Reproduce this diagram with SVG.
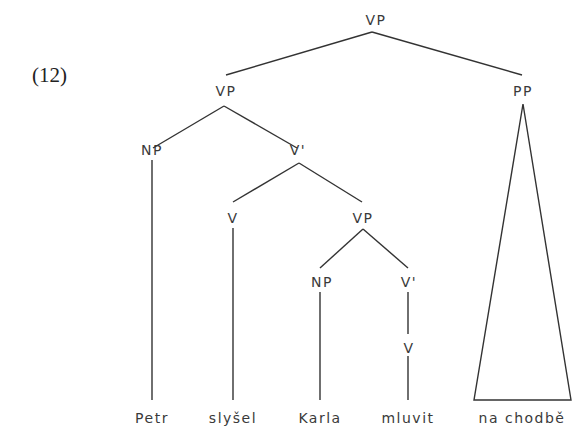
<svg xmlns="http://www.w3.org/2000/svg" width="573" height="427" viewBox="0 0 573 427">
<style>
.lbl{font-family:"DejaVu Sans","Liberation Sans",sans-serif;font-size:14px;fill:#3a3a3a;text-anchor:middle;letter-spacing:1.5px}
.ex{font-family:"Liberation Serif",serif;font-size:21px;fill:#222}
.ln{stroke:#333;stroke-width:1.4;fill:none}
</style>
<rect width="573" height="427" fill="#fff"/>
<text class="ex" x="32" y="82">(12)</text>
<g id="n_vp1"><text class="lbl" x="376" y="25">VP</text></g>
<g id="n_vp2"><text class="lbl" x="226" y="96">VP</text></g>
<g id="n_pp"><text class="lbl" x="523" y="96">PP</text></g>
<g id="n_np1"><text class="lbl" x="152" y="155">NP</text></g>
<g id="n_vbar1"><text class="lbl" x="298" y="155">V'</text></g>
<g id="n_v1"><text class="lbl" x="233" y="223">V</text></g>
<g id="n_vp3"><text class="lbl" x="363" y="223">VP</text></g>
<g id="n_np2"><text class="lbl" x="322" y="287">NP</text></g>
<g id="n_vbar2"><text class="lbl" x="409" y="287">V'</text></g>
<g id="n_v2"><text class="lbl" x="409" y="353">V</text></g>
<g id="w_petr"><text class="lbl" x="152" y="423">Petr</text></g>
<g id="w_slysel"><text class="lbl" x="233" y="423">slyšel</text></g>
<g id="w_karla"><text class="lbl" x="320" y="423">Karla</text></g>
<g id="w_mluvit"><text class="lbl" x="408" y="423">mluvit</text></g>
<g id="w_nachodbe"><text class="lbl" x="522" y="423">na chodbě</text></g>
<g id="connectors" class="ln">
<line x1="372" y1="32" x2="226" y2="75"/>
<line x1="372" y1="32" x2="522" y2="75"/>
<line x1="224" y1="106" x2="153" y2="148"/>
<line x1="224" y1="106" x2="297" y2="148"/>
<line x1="152" y1="160" x2="152" y2="400"/>
<line x1="299" y1="163" x2="233" y2="202"/>
<line x1="299" y1="163" x2="362" y2="202"/>
<line x1="233" y1="228" x2="233" y2="400"/>
<line x1="363" y1="229" x2="320" y2="268"/>
<line x1="363" y1="229" x2="408" y2="268"/>
<line x1="320" y1="292" x2="320" y2="400"/>
<line x1="408" y1="292" x2="408" y2="334"/>
<line x1="408" y1="356" x2="408" y2="400"/>
<polygon points="523,104 474,400 571,400"/>
</g>
</svg>
